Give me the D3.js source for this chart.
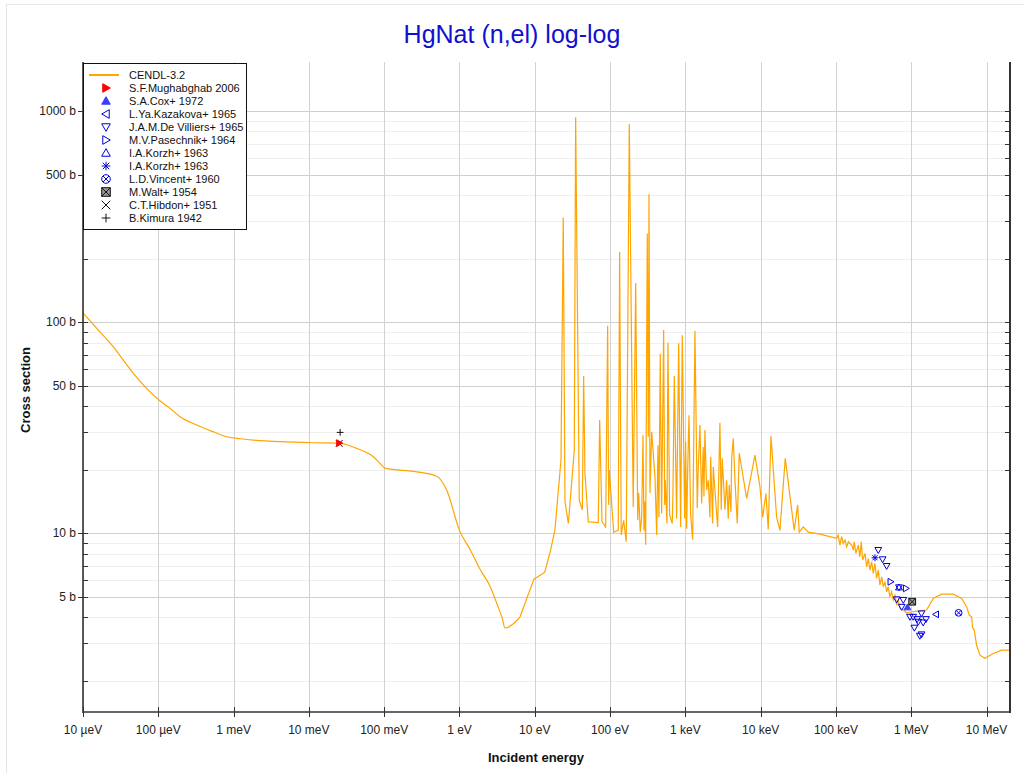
<!DOCTYPE html>
<html><head><meta charset="utf-8">
<script src="https://cdn.jsdelivr.net/npm/d3@7"></script>
<style>body{margin:0;background:#fff;font-family:"Liberation Sans",Arial,sans-serif}</style>
</head><body>
<svg id="c" width="1024" height="773"></svg>
<script>
// ---------------- data ----------------
const cendlEnergy = [1.0e-5,1.6e-5,2.52e-5,3.43e-5,4.66e-5,7.0e-5,1.02e-4,1.43e-4,1.94e-4,3.24e-4,5.37e-4,8.1e-4,1.22e-3,1.83e-3,4.13e-3,0.0114,0.0253,0.0431,0.0556,0.0717,0.0879,0.1026,0.270,0.498,0.676,1.0,1.4,1.9,2.5,3.2,3.7,4.02,6.36,9.75,13.6,16.2,18.5,22.3,23.9,25.2,27.9,33.5,34.9,39.0,42.8,44.6,46.4,51.4,69.7,72.8,78.1,87.4,92.9,95.8,97.6,111.6,128.5,134,140.8,151.6,164,180,203,219,233,240,252,263,274,282,288,297,312,322,329,339,357,395,416,433,446,464,484,515,531,541,570,587,618,670,684,713,766,815,866,910,979,1009,1040,1074,1117,1175,1250,1341,1439,1484,1563,1645,1728,1766,1820,1918,2014,2122,2168,2305,2349,2525,2685,2878,2998,3090,3357,3533,3714,3828,4034,4120,4328,4560,4890,5200,6520,8400,9790,10640,11760,12610,13710,16300,18030,21220,27940,30980,32570,36800,42870,61400,1.02e5,1.07e5,1.13e5,1.19e5,1.25e5,1.32e5,1.39e5,1.46e5,1.53e5,1.62e5,1.70e5,1.75e5,1.84e5,1.98e5,2.08e5,2.17e5,2.26e5,2.43e5,2.56e5,2.69e5,2.83e5,2.98e5,3.13e5,3.30e5,3.47e5,3.65e5,3.84e5,4.05e5,4.25e5,4.48e5,4.71e5,4.95e5,5.21e5,5.49e5,5.77e5,6.08e5,6.40e5,6.72e5,7.08e5,7.84e5,8.69e5,1.01e6,1.30e6,1.60e6,1.96e6,2.53e6,3.61e6,4.67e6,5.44e6,5.89e6,6.34e6,6.53e6,6.87e6,7.38e6,8.17e6,9.51e6,1.23e7,1.59e7,2.05e7];
const cendlXS = [110.6,91.5,76.4,66.0,57.2,48.5,42.7,39.0,35.6,32.5,30.2,28.6,28.0,27.6,27.1,26.8,26.7,25.2,24.3,23.0,21.4,20.3,19.5,18.6,16.0,10.3,8.3,6.68,5.67,4.55,3.95,3.55,4.0,6.05,6.53,8.3,10.3,22.2,313,14.1,11.1,24.7,934,14.3,12.9,55.5,19.2,11.3,11.2,34.3,11.3,10.7,96,13.6,19.9,10.1,10.3,215,9.8,11.5,9.1,868,13.3,153,11.5,15.5,10.1,11.9,29.1,10.3,14.1,8.8,263,28.6,403,15.5,30.2,18.5,9.8,26.1,11.9,70.5,12.4,91.6,13.6,17.8,11.1,79.7,12.2,11.1,15.4,55.5,11.7,79.3,10.7,86.7,11.7,27.1,10.5,19.9,36.2,12.2,9.3,91,13.1,20.3,32.5,13.8,25.6,14.9,30.8,16.0,17.8,11.9,23.0,11.1,20.6,14.3,10.7,33.3,12.9,22.6,12.9,17.8,11.7,16.9,12.6,22.6,28.1,17.8,11.1,23.9,14.6,23.4,16.6,11.9,15.4,10.4,28.8,11.9,10.3,22.6,10.3,13.6,10.1,10.7,10.1,9.89,9.44,9.78,8.77,9.61,8.93,9.27,8.61,9.10,8.93,8.77,8.31,9.10,8.01,8.77,7.72,9.10,7.45,8.01,6.92,7.58,6.68,7.31,6.44,7.18,6.10,6.68,5.67,6.21,5.57,5.88,5.27,5.57,4.99,5.27,4.82,5.08,4.56,4.82,4.40,4.32,4.19,4.24,4.28,4.32,4.90,5.14,5.14,4.90,4.48,4.09,4.01,3.57,3.47,2.94,2.64,2.55,2.69,2.79,2.79];

const mughabghabE = [0.0253], mughabghabXS = [26.7];
const coxE = [8.9e5], coxXS = [4.45];
const kazakovaE = [2.13e6], kazakovaXS = [4.12];
const devilliersE = [3.65e5,4.17e5,4.71e5,6.40e5,6.87e5,7.46e5,7.84e5,9.62e5,1.06e6,1.10e6,1.20e6,1.24e6,1.30e6,1.37e6,1.37e6,1.44e6,1.57e6];
const devilliersXS = [8.31,7.51,6.98,4.85,5.53,4.47,4.82,4.01,4.01,3.56,3.91,3.80,3.26,4.16,3.31,3.77,3.91];
const pasechnikE = [5.32e5,8.51e5], pasechnikXS = [5.88,5.47];
const korzhTriE = [6.87e5], korzhTriXS = [5.53];
const korzhStarE = [3.30e5], korzhStarXS = [7.64];
const vincentE = [4.26e6], vincentXS = [4.19];
const waltE = [1.03e6], waltXS = [4.73];
const hibdonE = [0.0253], hibdonXS = [26.6];
const kimuraE = [0.026], kimuraXS = [30.0];

const xTickValues = [1e-5,1e-4,1e-3,1e-2,1e-1,1,10,100,1e3,1e4,1e5,1e6,1e7];
const xTickLabels = ["10 µeV","100 µeV","1 meV","10 meV","100 meV","1 eV","10 eV","100 eV","1 keV","10 keV","100 keV","1 MeV","10 MeV"];
const yMajorTicks = [5,10,50,100,500,1000];
const yMajorLabels = ["5 b","10 b","50 b","100 b","500 b","1000 b"];
const yMinorTicks = [2,3,4,6,7,8,9,20,30,40,60,70,80,90,200,300,400,600,700,800,900];

// ---------------- layout ----------------
const L=83, R=1010, T=62, B=712;
const svg = d3.select("#c");
const x = d3.scaleLog().domain([1e-5, 2.05e7]).range([L, R]);
const y = d3.scaleLog().domain([1.42, 1707]).range([B, T]);

svg.append("rect").attr("x",6.5).attr("y",4.5).attr("width",1200).attr("height",1000)
  .attr("fill","none").attr("stroke","#e6e6e6");

// grid
const g = svg.append("g");
g.selectAll(".ym").data(yMinorTicks).join("line")
  .attr("x1",L).attr("x2",R).attr("y1",d=>Math.round(y(d))+0.5).attr("y2",d=>Math.round(y(d))+0.5)
  .attr("stroke","#efefef");
g.selectAll(".yM").data(yMajorTicks).join("line")
  .attr("x1",L).attr("x2",R).attr("y1",d=>Math.round(y(d))+0.5).attr("y2",d=>Math.round(y(d))+0.5)
  .attr("stroke","#cfcfcf");
g.selectAll(".xg").data(xTickValues).join("line")
  .attr("y1",T).attr("y2",B).attr("x1",d=>Math.round(x(d))+0.5).attr("x2",d=>Math.round(x(d))+0.5)
  .attr("stroke","#d2d2d2");

// clip
svg.append("clipPath").attr("id","clip").append("rect").attr("x",L).attr("y",T).attr("width",R-L).attr("height",B-T);

// curve
const cendl = cendlEnergy.map((e,i)=>[e,cendlXS[i]]);
svg.append("path").attr("clip-path","url(#clip)")
  .attr("d", d3.line().curve(d3.curveMonotoneX).x(d=>x(d[0])).y(d=>y(d[1]))(cendl.slice(0,33)))
  .attr("fill","none").attr("stroke","#ffa500").attr("stroke-width",1.2);
svg.append("path").attr("clip-path","url(#clip)")
  .attr("d", d3.line().x(d=>x(d[0])).y(d=>y(d[1]))(cendl.slice(32)))
  .attr("fill","none").attr("stroke","#ffa500").attr("stroke-width",1.2);

// marker shapes
function shape(type, s){
  switch(type){
    case "up": return `M0,${-s}L${s},${s*0.75}L${-s},${s*0.75}Z`;
    case "down": return `M0,${s}L${s},${-s*0.75}L${-s},${-s*0.75}Z`;
    case "right": return `M${s},0L${-s*0.75},${s}L${-s*0.75},${-s}Z`;
    case "left": return `M${-s},0L${s*0.75},${s}L${s*0.75},${-s}Z`;
    case "star": { const a=s*0.75; return `M${-s},0L${s},0M0,${-s}L0,${s}M${-a},${-a}L${a},${a}M${-a},${a}L${a},${-a}`; }
    case "circx": { const a=s*0.7; return `M${s},0A${s},${s} 0 1,1 ${-s},0A${s},${s} 0 1,1 ${s},0ZM${-a},${-a}L${a},${a}M${-a},${a}L${a},${-a}`; }
    case "boxx": return `M${-s},${-s}H${s}V${s}H${-s}ZM${-s},${-s}L${s},${s}M${-s},${s}L${s},${-s}`;
    case "x": return `M${-s},${-s}L${s},${s}M${-s},${s}L${s},${-s}`;
    case "plus": return `M${-s},0L${s},0M0,${-s}L0,${s}`;
  }
}
const sets = [
  {name:"S.F.Mughabghab 2006", E:mughabghabE, S:mughabghabXS, type:"right", stroke:"#ff0000", fill:"#ff0000"},
  {name:"S.A.Cox+ 1972", E:coxE, S:coxXS, type:"up", stroke:"#3c3cff", fill:"#3c3cff"},
  {name:"L.Ya.Kazakova+ 1965", E:kazakovaE, S:kazakovaXS, type:"left", stroke:"#0000dd", fill:"none"},
  {name:"J.A.M.De Villiers+ 1965", E:devilliersE, S:devilliersXS, type:"down", stroke:"#0000dd", fill:"none"},
  {name:"M.V.Pasechnik+ 1964", E:pasechnikE, S:pasechnikXS, type:"right", stroke:"#0000dd", fill:"none"},
  {name:"I.A.Korzh+ 1963", E:korzhTriE, S:korzhTriXS, type:"up", stroke:"#0000dd", fill:"none"},
  {name:"I.A.Korzh+ 1963", E:korzhStarE, S:korzhStarXS, type:"star", stroke:"#0000dd", fill:"none"},
  {name:"L.D.Vincent+ 1960", E:vincentE, S:vincentXS, type:"circx", stroke:"#0000dd", fill:"none"},
  {name:"M.Walt+ 1954", E:waltE, S:waltXS, type:"boxx", stroke:"#111", fill:"#999"},
  {name:"C.T.Hibdon+ 1951", E:hibdonE, S:hibdonXS, type:"x", stroke:"#111", fill:"none"},
  {name:"B.Kimura 1942", E:kimuraE, S:kimuraXS, type:"plus", stroke:"#111", fill:"none"}
];
[...sets].reverse().forEach(st=>{
  svg.append("g").selectAll("path").data(st.E.map((e,i)=>[e,st.S[i]])).join("path")
    .attr("transform",d=>`translate(${x(d[0])},${y(d[1])})`)
    .attr("d",shape(st.type,3.4)).attr("fill",st.fill).attr("stroke",st.stroke).attr("stroke-width",1);
});

// axes
const ax = svg.append("g").attr("font-family","'Liberation Sans',Arial,sans-serif").attr("font-size",12).attr("fill","#222");
ax.append("line").attr("x1",L).attr("x2",L).attr("y1",T).attr("y2",B+1).attr("stroke","#333").attr("stroke-width",1.6);
ax.append("line").attr("x1",L).attr("x2",R+1).attr("y1",B).attr("y2",B).attr("stroke","#333").attr("stroke-width",1.6);
ax.append("line").attr("x1",R).attr("x2",R).attr("y1",T).attr("y2",B+1).attr("stroke","#333").attr("stroke-width",2);
ax.selectAll(".ytM").data(yMajorTicks).join("line")
  .attr("x1",L-5).attr("x2",L+5).attr("y1",d=>Math.round(y(d))+0.5).attr("y2",d=>Math.round(y(d))+0.5).attr("stroke","#333");
ax.selectAll(".ytm").data(yMinorTicks).join("line")
  .attr("x1",L).attr("x2",L+5).attr("y1",d=>Math.round(y(d))+0.5).attr("y2",d=>Math.round(y(d))+0.5).attr("stroke","#333");
ax.selectAll(".yrt").data(yMajorTicks.concat(yMinorTicks)).join("line")
  .attr("x1",R-5).attr("x2",R).attr("y1",d=>Math.round(y(d))+0.5).attr("y2",d=>Math.round(y(d))+0.5).attr("stroke","#333");
ax.selectAll(".yl").data(yMajorTicks).join("text")
  .attr("x",L-7).attr("y",d=>y(d)+4).attr("text-anchor","end").text((d,i)=>yMajorLabels[i]);
ax.selectAll(".xt").data(xTickValues).join("line")
  .attr("x1",d=>Math.round(x(d))+0.5).attr("x2",d=>Math.round(x(d))+0.5).attr("y1",B-5).attr("y2",B+5).attr("stroke","#333");
ax.selectAll(".xl").data(xTickValues).join("text")
  .attr("x",d=>x(d)).attr("y",B+22).attr("text-anchor","middle").text((d,i)=>xTickLabels[i]);

// titles
svg.append("text").attr("x",512).attr("y",43).attr("text-anchor","middle")
  .attr("font-family","'Liberation Sans',Arial,sans-serif").attr("font-size",25).attr("fill","#1111cc")
  .text("HgNat (n,el) log-log");
svg.append("text").attr("x",536).attr("y",762).attr("text-anchor","middle")
  .attr("font-family","'Liberation Sans',Arial,sans-serif").attr("font-size",13).attr("font-weight","bold").attr("fill","#111")
  .text("Incident energy");
svg.append("text").attr("transform","translate(30,390) rotate(-90)").attr("text-anchor","middle")
  .attr("font-family","'Liberation Sans',Arial,sans-serif").attr("font-size",13).attr("font-weight","bold").attr("fill","#111")
  .text("Cross section");

// legend
const lg = svg.append("g").attr("font-family","'Liberation Sans',Arial,sans-serif").attr("font-size",11).attr("fill","#111");
lg.append("rect").attr("x",83.5).attr("y",63.5).attr("width",163).attr("height",166).attr("fill","#fff").attr("stroke","#111");
const rowY = i => 75 + i*13;
lg.append("line").attr("x1",89).attr("x2",119).attr("y1",rowY(0)).attr("y2",rowY(0)).attr("stroke","#ffa500").attr("stroke-width",2);
lg.append("text").attr("x",129).attr("y",rowY(0)+4).text("CENDL-3.2");
sets.forEach((st,i)=>{
  lg.append("path").attr("transform",`translate(106,${rowY(i+1)})`).attr("d",shape(st.type,4.3))
    .attr("fill",st.fill).attr("stroke",st.stroke).attr("stroke-width",1);
  lg.append("text").attr("x",129).attr("y",rowY(i+1)+4).text(st.name);
});
</script>
</body></html>
